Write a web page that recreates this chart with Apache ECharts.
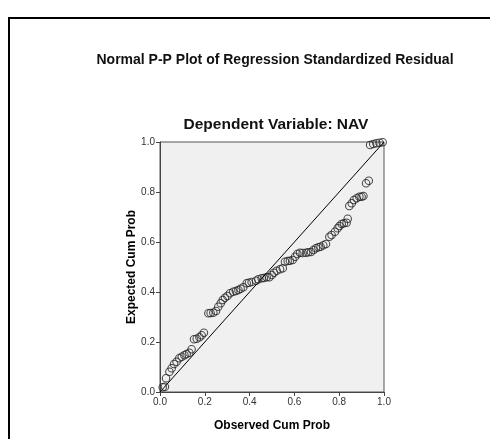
<!DOCTYPE html>
<html>
<head>
<meta charset="utf-8">
<script src="https://cdn.jsdelivr.net/npm/echarts@6/dist/echarts.min.js"></script>
<style>html,body{margin:0;padding:0;background:#fff}#c{width:490px;height:439px}</style>
</head>
<body>
<div id="c"></div>
<script>
const chartTitle = 'Normal P-P Plot of Regression Standardized Residual';
const subTitle = 'Dependent Variable: NAV';
const xName = 'Observed Cum Prob';
const yName = 'Expected Cum Prob';
const tickValues = [0.0, 0.2, 0.4, 0.6, 0.8, 1.0];
const observed = [0.012,0.022,0.027,0.042,0.052,0.063,0.074,0.086,0.097,0.109,0.119,0.131,0.141,0.152,0.164,0.176,0.186,0.196,0.216,0.226,0.238,0.25,0.26,0.271,0.28,0.29,0.301,0.3125,0.327,0.339,0.35,0.36,0.372,0.387,0.397,0.409,0.429,0.439,0.454,0.464,0.476,0.488,0.499,0.509,0.521,0.536,0.548,0.558,0.57,0.58,0.592,0.603,0.613,0.625,0.637,0.652,0.662,0.674,0.685,0.696,0.707,0.717,0.729,0.741,0.756,0.766,0.781,0.793,0.801,0.811,0.821,0.833,0.838,0.845,0.856,0.866,0.878,0.89,0.9,0.908,0.92,0.932,0.938,0.952,0.966,0.98,0.994];
const expected = [0.019,0.021,0.055,0.081,0.095,0.112,0.121,0.135,0.141,0.147,0.152,0.157,0.171,0.211,0.213,0.219,0.227,0.237,0.315,0.316,0.317,0.324,0.341,0.355,0.368,0.377,0.384,0.395,0.401,0.404,0.408,0.413,0.419,0.435,0.437,0.44,0.445,0.451,0.455,0.456,0.459,0.459,0.468,0.477,0.485,0.491,0.495,0.521,0.524,0.525,0.528,0.541,0.552,0.557,0.556,0.557,0.559,0.56,0.568,0.575,0.579,0.581,0.587,0.592,0.621,0.628,0.641,0.655,0.664,0.672,0.675,0.677,0.693,0.744,0.755,0.768,0.775,0.781,0.781,0.784,0.835,0.845,0.988,0.992,0.995,0.997,0.999];
const diagonal = [[0,0],[1,1]];

const points = observed.map((x, i) => [x, expected[i]]);
const chart = echarts.init(document.getElementById('c'), null, {renderer: 'canvas'});
const font = 'Arial, "Liberation Sans", sans-serif';
const axisCommon = {
  type: 'value', min: 0, max: 1, interval: 0.2,
  nameLocation: 'middle',
  nameTextStyle: {fontFamily: font, fontSize: 12, fontWeight: 'bold', color: '#000'},
  axisLine: {show: true, onZero: false, lineStyle: {color: '#444', width: 1}},
  axisTick: {show: true, inside: false, length: 4, lineStyle: {color: '#444'}},
  axisLabel: {fontFamily: font, fontSize: 10, color: '#333', margin: 5,
    formatter: v => (tickValues.find(t => Math.abs(t - v) < 1e-9) ?? v).toFixed(1)},
  splitLine: {show: false}
};
chart.setOption({
  animation: false,
  backgroundColor: '#fff',
  title: [
    {text: chartTitle, left: 270, top: 48, textAlign: 'center',
     textStyle: {fontFamily: font, fontSize: 14, fontWeight: 'bold', color: '#111'}},
    {text: subTitle, left: 271, top: 112, textAlign: 'center',
     textStyle: {fontFamily: font, fontSize: 15.5, fontWeight: 'bold', color: '#111'}}
  ],
  graphic: [{type: 'rect', shape: {x: 9, y: 18, width: 600, height: 600},
    style: {fill: 'none', stroke: '#000', lineWidth: 2}, silent: true}],
  grid: {left: 160, top: 142, width: 224, height: 250, show: true,
    backgroundColor: '#f0f0f0', borderColor: '#555', borderWidth: 1},
  xAxis: Object.assign({}, axisCommon, {name: xName, nameGap: 28}),
  yAxis: Object.assign({}, axisCommon, {name: yName, nameGap: 18}),
  series: [
    {type: 'line', data: diagonal, symbol: 'none', lineStyle: {color: '#000', width: 1}, silent: true},
    {type: 'scatter', data: points, symbol: 'circle', symbolSize: 7.5,
     itemStyle: {color: 'rgba(0,0,0,0)', borderColor: '#222', borderWidth: 1.1}}
  ]
});
</script>
</body>
</html>
